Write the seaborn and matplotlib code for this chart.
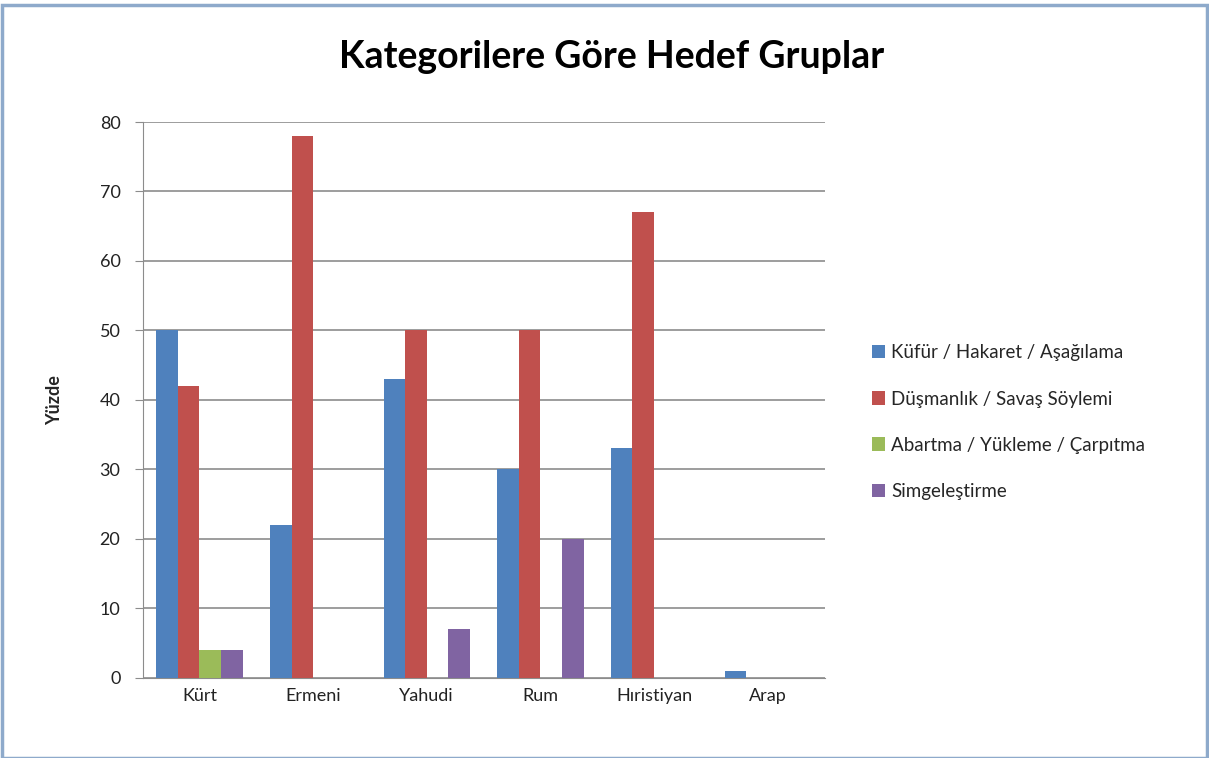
import matplotlib
matplotlib.use("Agg")
import matplotlib.pyplot as plt
import seaborn as sns
import pandas as pd
from matplotlib.patches import Rectangle

categories = ["Kürt", "Ermeni", "Yahudi", "Rum", "Hıristiyan", "Arap"]
series_names = ["Küfür / Hakaret / Aşağılama", "Düşmanlık / Savaş Söylemi",
                "Abartma / Yükleme / Çarpıtma", "Simgeleştirme"]
kufur = [50, 22, 43, 30, 33, 1]
dusmanlik = [42, 78, 50, 50, 67, 0]
abartma = [4, 0, 0, 0, 0, 0]
simge = [4, 0, 7, 20, 0, 0]
colors = ["#4F81BD", "#C0504D", "#9BBB59", "#8064A2"]

rows = []
for name, vals in zip(series_names, [kufur, dusmanlik, abartma, simge]):
    for c, v in zip(categories, vals):
        rows.append({"Grup": c, "Kategori": name, "Yüzde": v})
df = pd.DataFrame(rows)

sns.set_style("white")
plt.rcParams["font.family"] = ["Lato", "DejaVu Sans"]

fig = plt.figure(figsize=(12.09, 7.58), dpi=100)
ax = fig.add_axes([0.118, 0.106, 0.564, 0.733])
sns.barplot(data=df, x="Grup", y="Yüzde", hue="Kategori", order=categories,
            hue_order=series_names, palette=colors, width=0.76, ax=ax,
            saturation=1, edgecolor="none", zorder=3)

ax.set_ylim(0, 80)
ax.set_yticks(range(0, 81, 10))
ax.yaxis.grid(True, color="#8c8c8c", linewidth=1.2, zorder=0)
ax.set_axisbelow(True)
for s in ["top", "right"]:
    ax.spines[s].set_visible(False)
ax.spines["left"].set_color("#8c8c8c")
ax.spines["bottom"].set_color("#8c8c8c")
ax.tick_params(axis="y", left=True, length=6, color="#8c8c8c", labelsize=13,
               labelcolor="#222222", pad=10)
ax.tick_params(axis="x", bottom=False, labelsize=13, labelcolor="#222222", pad=4)
ax.set_xlabel("")
ax.set_ylabel("Yüzde", fontsize=13, fontweight="bold", labelpad=26)

leg = ax.legend(loc="center left", bbox_to_anchor=(1.045, 0.46), frameon=False,
                fontsize=13.5, handlelength=0.7, handleheight=0.7, handletextpad=0.3,
                labelspacing=1.55)

fig.suptitle("Kategorilere Göre Hedef Gruplar", x=0.506, y=0.947, fontsize=27,
             fontweight="bold", color="black")

fig.patches.append(Rectangle((0.002, 0.0), 0.996, 0.994, transform=fig.transFigure,
                             fill=False, edgecolor="#8eaacb", linewidth=2.5))

fig.savefig("out.png", dpi=100)
